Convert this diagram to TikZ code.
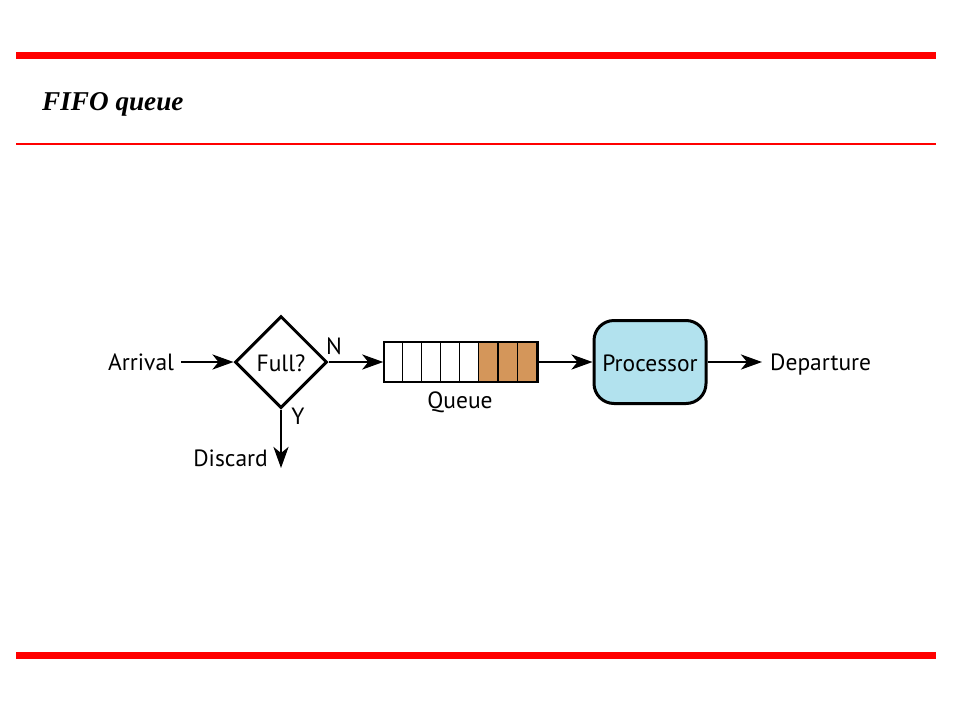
\documentclass[tikz,border=0pt]{standalone}
\usepackage{fontspec}
\setmainfont{Liberation Serif}
\newfontfamily\diagfont{PT Sans}
\usetikzlibrary{arrows.meta,shapes.geometric,calc}
\definecolor{qbrown}{RGB}{212,150,90}
\definecolor{pblue}{RGB}{178,226,238}
\definecolor{barred}{RGB}{255,0,0}
\begin{document}
\begin{tikzpicture}[x=1pt,y=-1pt,
  lbl/.style={font=\diagfont\fontsize{23.5}{26}\selectfont, inner sep=0pt},
  arr/.style={line width=2.8pt, -{Stealth[length=21pt,width=15pt,inset=6pt]}},
  conn/.style={line width=2.8pt}]
\useasboundingbox (0,0) rectangle (960,720);
% header and footer bars
\fill[barred] (16,52) rectangle (936,59);
\fill[barred] (16,142.8) rectangle (936,144.6);
\fill[barred] (16,652) rectangle (936,659);
\node[anchor=base west, inner sep=0pt, font=\fontsize{27.2}{30}\selectfont\bfseries\itshape] (title) at (42,110) {FIFO queue};
% diagram
\node[lbl, anchor=base west] (arrival) at (108,370) {Arrival};
\node[diamond, draw, line width=3pt, minimum width=92pt, minimum height=92pt, inner sep=0pt] (full) at (281,362) {};
\node[lbl, anchor=base] (fulltxt) at (281,371) {Full?};
\node[lbl, anchor=base] (nlab) at (334,354) {N};
\node[lbl, anchor=base] (ylab) at (298,424) {Y};
\node[draw, line width=1.5pt, minimum width=153pt, minimum height=39pt, inner sep=0pt] (queue) at (460.5,362) {};
\foreach \i in {5,6,7} {
  \fill[qbrown] ($(queue.north west)+(\i*19.125,0)$) rectangle ++(19.125,39);
}
\foreach \i in {1,...,7} {
  \draw[line width=1.2pt] ($(queue.north west)+(\i*19.125,0)$) -- ++(0,39);
}
\draw[line width=1.5pt] (queue.north west) rectangle (queue.south east);
\node[lbl, anchor=base] (qlab) at (460,408) {Queue};
\node[draw, line width=3pt, fill=pblue, rounded corners=20pt, minimum width=112pt, minimum height=83pt, inner sep=0pt] (proc) at (650,362) {};
\node[lbl, anchor=base] (proctxt) at (650,371) {Processor};
\node[lbl, anchor=base west] (dep) at (770,370) {Departure};
\node[lbl, anchor=base east] (disc) at (268,466) {Discard};
\coordinate (discend) at (281,468);
% connectors
\draw[arr] ([xshift=7pt]arrival.east |- full.west) -- (full.west);
\draw[arr] (full.east) -- (queue.west);
\draw[arr] (full.south) -- (discend);
\draw[arr] (queue.east) -- (proc.west);
\draw[arr] (proc.east) -- ([xshift=-8pt]dep.west |- proc.east);
\end{tikzpicture}
\end{document}
